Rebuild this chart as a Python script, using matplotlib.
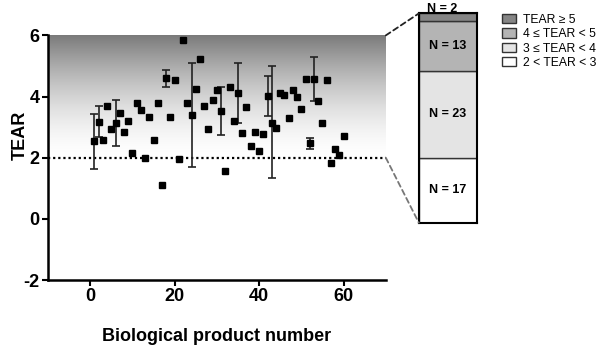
import matplotlib
matplotlib.use("Agg")
import matplotlib.pyplot as plt
import numpy as np
from matplotlib.patches import Patch, ConnectionPatch

plt.rcParams['font.family'] = ['Liberation Sans', 'DejaVu Sans']
plt.rcParams['font.weight'] = 'bold'
plt.rcParams['axes.unicode_minus'] = False

# ---- data ----
product = list(range(1, 61))
tear = [2.55, 3.18, 2.58, 3.70, 2.93, 3.14, 3.45, 2.83, 3.20, 2.17,
        3.80, 3.56, 2.00, 3.32, 2.58, 3.78, 1.10, 4.60, 3.34, 4.54,
        1.95, 5.84, 3.80, 3.40, 4.24, 5.23, 3.69, 2.93, 3.88, 4.22,
        3.54, 1.57, 4.30, 3.19, 4.11, 2.82, 3.65, 2.38, 2.83, 2.22,
        2.77, 4.02, 3.15, 2.98, 4.11, 4.06, 3.29, 4.20, 3.97, 3.58,
        4.57, 2.47, 4.59, 3.85, 3.13, 4.53, 1.83, 2.28, 2.10, 2.70]
err_product = [1, 2, 6, 18, 24, 31, 35, 42, 43, 52, 53]
err_low = [1.64, 2.68, 2.39, 4.30, 1.71, 2.74, 3.13, 3.37, 1.32, 2.30, 3.87]
err_high = [3.43, 3.68, 3.88, 4.87, 5.09, 4.32, 5.09, 4.68, 5.00, 2.65, 5.30]

cat_labels = ["2 < TEAR < 3", "3 \u2264 TEAR < 4", "4 \u2264 TEAR < 5", "TEAR \u2265 5"]
cat_counts = [17, 23, 13, 2]
cat_colors = ["#ffffff", "#e4e4e4", "#b4b4b4", "#858585"]

threshold = 2

# ---- figure ----
fig = plt.figure(figsize=(6.0, 3.54), dpi=100)
ax = fig.add_axes([0.08, 0.209, 0.563, 0.691])

# gradient background between threshold and 6 (dark at top, white toward threshold)
t = np.linspace(0, 1, 256)
shade = 1.0 - 0.52 * t ** 1.6
img = np.repeat(shade.reshape(-1, 1, 1), 3, axis=2)
ax.imshow(img, extent=[-10, 70, threshold, 6], origin='lower', aspect='auto',
          zorder=0, interpolation='bilinear')

ax.axhline(threshold, color='black', linestyle=(0, (1, 1.3)), linewidth=1.6, zorder=1)

# error bars
idx = [product.index(p) for p in err_product]
yv = np.array([tear[i] for i in idx])
lo = yv - np.array(err_low)
hi = np.array(err_high) - yv
ax.errorbar(err_product, yv, yerr=[lo, hi], fmt='none', ecolor='#222222',
            elinewidth=1.2, capsize=3, capthick=1.2, zorder=2)
ax.plot(product, tear, 's', color='black', markersize=5, zorder=3)

ax.set_xlim(-10, 70)
ax.set_ylim(-2, 6)
ax.set_xticks([0, 20, 40, 60])
ax.set_yticks([-2, 0, 2, 4, 6])
for s in ['top', 'right']:
    ax.spines[s].set_visible(False)
for s in ['left', 'bottom']:
    ax.spines[s].set_linewidth(1.8)
ax.tick_params(width=1.5, length=4, labelsize=13, pad=2)
for tl in ax.get_xticklabels() + ax.get_yticklabels():
    tl.set_fontweight('bold')
ax.set_xlabel("Biological product number", fontsize=13, fontweight='bold', labelpad=16)
ax.set_ylabel("TEAR", fontsize=13, fontweight='bold')
ax.yaxis.set_label_coords(-0.058, 0.59)

# stacked bar
bx = fig.add_axes([0.698, 0.371, 0.097, 0.591])
bottom = 0
for c, n, col in zip(cat_labels, cat_counts, cat_colors):
    bx.bar(0, n, bottom=bottom, width=1, color=col, edgecolor='#333333', linewidth=1.0)
    if n > 5:
        bx.text(0, bottom + n / 2, f"N = {n}", ha='center', va='center',
                fontsize=9, fontweight='bold')
    else:
        bx.text(-0.1, bottom + n - 0.5, f"N = {n}", ha='center', va='bottom',
                fontsize=9, fontweight='bold')
    bottom += n
total = sum(cat_counts)
bx.set_xlim(-0.5, 0.5)
bx.set_ylim(0, total)
bx.set_xticks([])
bx.set_yticks([])
for s in bx.spines.values():
    s.set_linewidth(1.5)

# connecting dashed lines
con1 = ConnectionPatch(xyA=(70, 6), coordsA=ax.transData, xyB=(-0.5, total),
                       coordsB=bx.transData, linestyle=(0, (3, 2)), color='#222222', linewidth=1.3)
con2 = ConnectionPatch(xyA=(70, threshold), coordsA=ax.transData, xyB=(-0.5, 0),
                       coordsB=bx.transData, linestyle=(0, (3, 2)), color='#777777', linewidth=1.3)
fig.add_artist(con1)
fig.add_artist(con2)

# legend
handles = [Patch(facecolor=col, edgecolor='#333333', label=lab)
           for lab, col in zip(cat_labels, cat_colors)][::-1]
leg = fig.legend(handles=handles, loc='upper left', bbox_to_anchor=(0.828, 0.975),
                 frameon=False, fontsize=8.7, handlelength=1.2, handleheight=0.8,
                 labelspacing=0.2, handletextpad=0.6, borderaxespad=0.0)
for tl in leg.get_texts():
    tl.set_fontweight('normal')

fig.savefig("out.png", dpi=100)
